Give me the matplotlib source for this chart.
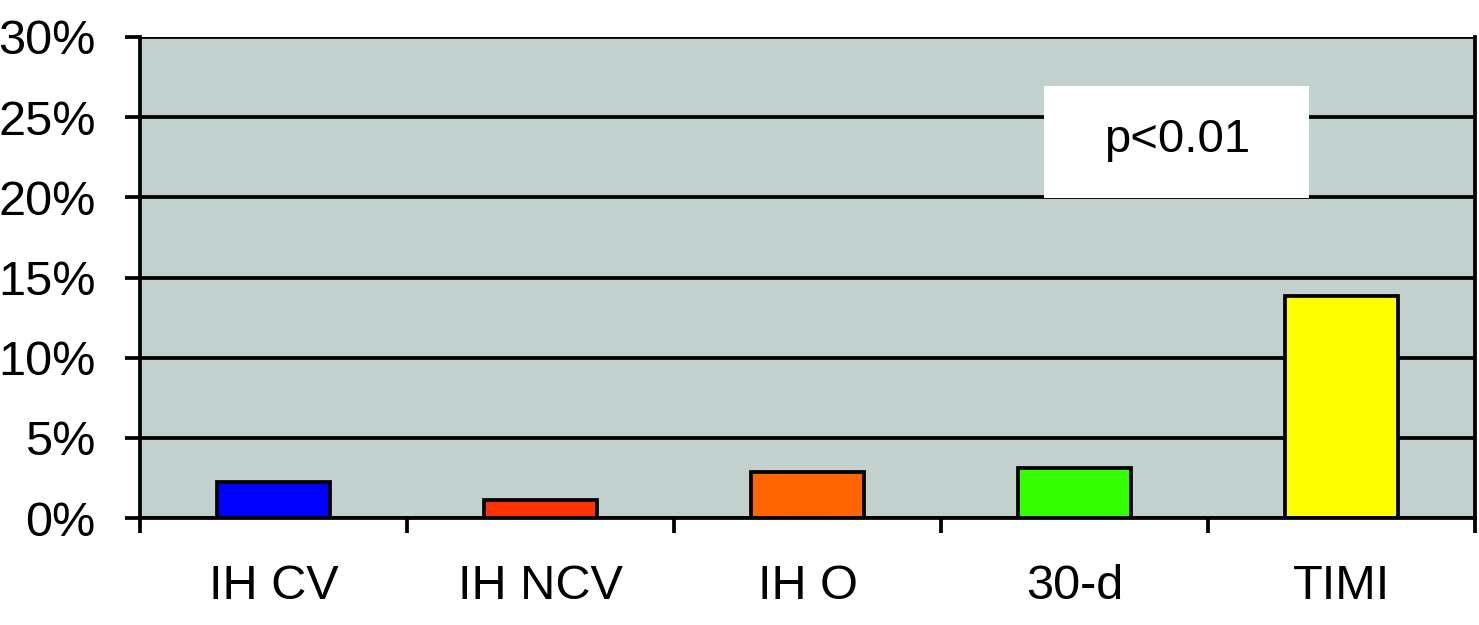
import matplotlib
matplotlib.use("Agg")
import matplotlib.pyplot as plt
from matplotlib.patches import Rectangle
import numpy as np

categories = ["IH CV", "IH NCV", "IH O", "30-d", "TIMI"]
values = [2.25, 1.15, 2.85, 3.1, 13.85]
colors = ["#0000FF", "#FF3300", "#FF6600", "#33FF00", "#FFFF00"]
yticks = [0, 5, 10, 15, 20, 25, 30]
ytick_labels = ["0%", "5%", "10%", "15%", "20%", "25%", "30%"]
annotation = "p<0.01"

plt.rcParams['font.family'] = ['Liberation Sans', 'DejaVu Sans']

fig = plt.figure(figsize=(14.79, 6.25), dpi=100)
ax = fig.add_axes([140/1479, 1-518/625, (1475-140)/1479, (518-37)/625])
ax.set_facecolor("#C3D1CE")

lw = 2.7
x = np.arange(len(categories))
ax.bar(x, values, width=0.42, color=colors, edgecolor="black", linewidth=lw, zorder=3)

ax.set_xlim(-0.5, len(categories) - 0.5)
ax.set_ylim(0, 30)
ax.set_yticks(yticks)
ax.set_yticklabels(ytick_labels, fontsize=35)
ax.set_xticks(x)
ax.set_xticklabels(categories, fontsize=35)
ax.set_xticks(np.arange(-0.5, len(categories), 1.0), minor=True)

ax.tick_params(axis='y', which='major', length=11, width=lw, pad=21, direction='out')
ax.tick_params(axis='x', which='major', length=0, pad=33)
ax.tick_params(axis='x', which='minor', length=11, width=lw, direction='out')

ax.grid(axis='y', color='black', linewidth=lw, zorder=1)
ax.set_axisbelow(True)

for side in ['left', 'right', 'bottom']:
    ax.spines[side].set_linewidth(lw)
    ax.spines[side].set_color('black')
ax.spines['top'].set_visible(False)
ax.spines['left'].set_zorder(4)
ax.spines['bottom'].set_zorder(4)

rect = Rectangle((0.677, 0.665), 0.199, 0.233, transform=ax.transAxes,
                 facecolor='white', edgecolor='none', zorder=2.5)
ax.add_patch(rect)
ax.text(0.7765, 0.786, annotation, transform=ax.transAxes, fontsize=34,
        ha='center', va='center', zorder=4)

fig.savefig("out.png", dpi=100)
